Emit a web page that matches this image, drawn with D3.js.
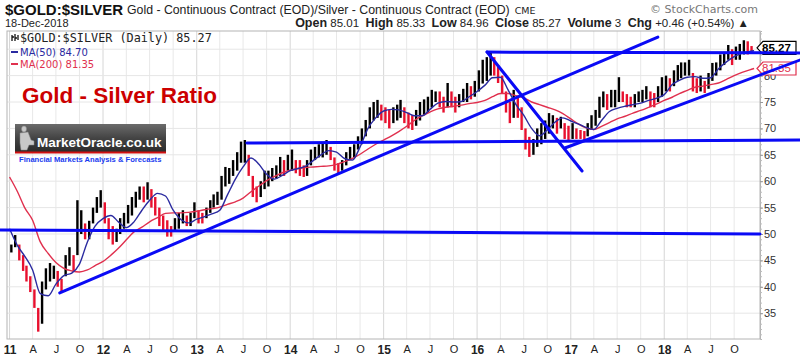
<!DOCTYPE html>
<html><head><meta charset="utf-8">
<script src="https://cdn.jsdelivr.net/npm/d3@7/dist/d3.min.js"></script>
<style>body{margin:0;background:#fff;}svg{display:block;}</style>
</head><body>
<svg id="c" width="800" height="358"></svg>
<script>
// ---- DATA ----
// half-month price ranges, Jan-2011 (1st half) ... Dec-2018 (1st half)
const halfLows = [
 46.5,47.5,45.0,43.0,41.0,39.0,36.0,31.5,33.0,39.5,41.0,41.5,40.0,39.0,42.0,44.0,43.0,46.0,50.0,49.0,49.0,52.0,54.0,55.0,
 52.0,49.0,48.0,48.5,50.0,51.0,52.0,53.5,55.0,56.5,56.0,56.5,55.0,53.5,51.5,50.5,49.5,49.5,50.5,51.0,52.0,51.5,51.5,53.0,
 52.0,52.0,53.0,54.0,55.0,55.5,56.5,59.0,59.5,61.0,62.0,63.5,63.5,61.0,57.0,56.0,57.0,58.5,59.0,60.0,60.5,61.0,61.0,62.0,
 62.0,61.5,61.0,60.8,61.0,63.0,64.0,64.5,64.5,65.0,64.0,62.0,61.5,62.0,63.0,64.0,64.5,66.0,67.0,68.5,70.0,71.5,72.0,71.5,
 71.0,70.0,71.0,71.5,72.0,71.0,70.0,69.7,70.5,71.5,72.5,73.0,74.0,75.0,74.0,73.0,74.0,74.0,73.0,74.0,75.0,75.0,75.5,76.0,
 77.0,78.5,79.0,80.0,80.0,78.6,76.7,73.0,71.0,72.0,72.0,69.7,66.0,64.6,65.0,66.5,67.0,68.0,69.0,70.0,69.0,70.0,68.0,67.8,
 68.0,68.0,68.0,67.8,68.5,69.7,70.5,72.0,74.0,73.5,74.0,74.0,75.0,75.0,74.0,74.0,74.0,75.0,75.0,75.5,74.0,74.0,75.0,76.0,
 77.0,77.0,78.0,79.0,79.5,80.0,80.0,77.0,76.7,77.0,76.7,77.5,79.0,80.0,81.0,82.0,83.0,82.0,83.0,83.0,84.0,84.0,84.5
];
const halfHighs = [
 48.0,49.8,48.0,46.0,44.0,42.0,39.5,36.0,41.0,43.5,44.5,44.0,43.0,41.5,46.0,47.5,46.0,56.4,54.5,52.0,52.5,55.0,57.0,58.3,
 56.0,53.0,51.5,51.0,53.0,54.0,55.5,57.0,58.0,59.0,59.0,59.8,58.5,57.0,55.0,53.5,52.6,51.5,53.0,54.0,54.5,53.5,54.0,56.0,
 54.5,54.0,55.0,56.4,57.5,58.0,61.0,62.7,62.5,64.0,65.5,67.5,67.8,65.0,61.0,59.0,60.0,62.0,62.0,62.5,63.0,64.6,64.0,65.0,
 66.0,64.0,64.0,63.0,64.0,66.0,66.5,67.0,67.2,67.8,66.5,64.5,63.4,64.0,65.5,66.5,67.0,68.5,70.0,71.6,74.0,75.0,75.4,74.5,
 74.0,73.5,74.0,74.5,75.4,74.0,73.0,72.5,73.5,75.0,75.5,76.0,77.3,77.0,77.0,76.0,78.6,77.0,76.0,76.5,77.5,78.6,78.0,79.0,
 81.0,83.0,83.5,84.3,83.5,82.0,80.0,77.0,75.0,77.3,76.0,74.0,70.0,68.4,68.0,70.0,71.0,71.5,72.9,72.5,72.0,72.2,71.0,70.5,
 71.0,70.0,69.7,69.5,71.0,72.5,73.5,76.0,77.0,76.5,77.3,77.3,79.7,77.0,76.5,76.0,76.5,77.0,77.3,78.0,77.0,76.7,78.0,79.7,
 80.0,79.5,81.0,82.0,82.5,82.5,83.0,80.5,79.5,80.0,79.0,80.5,82.4,82.5,84.0,84.5,85.8,85.0,85.5,86.0,86.7,86.5,85.6
];
// moving averages, 1st of each month Jan-2011 ... Dec-2018, then 18-Dec-2018
const ma50 = [
 51.0,47.8,45.8,43.2,38.7,38.3,40.5,42.1,42.6,44.3,48.5,51.5,
 52.9,53.5,52.3,51.2,52.3,54.5,56.4,57.7,57.2,54.5,52.7,52.1,
 52.8,53.3,53.8,54.5,57.4,60.4,62.7,64.4,63.2,61.3,60.4,61.1,
 62.0,62.4,62.8,63.9,65.0,65.8,65.5,64.3,64.0,66.5,70.0,72.0,
 73.3,73.6,73.5,73.0,72.4,72.4,73.6,74.8,75.1,75.0,75.1,76.0,
 77.0,78.2,79.6,79.7,77.3,74.5,72.5,70.0,68.6,69.7,71.2,72.0,
 71.4,70.8,70.2,69.8,71.5,73.2,73.8,74.2,74.5,74.8,75.3,75.7,
 76.4,78.3,79.1,79.7,79.8,79.5,79.6,81.3,82.6,83.6,84.2,84.6,84.70
];
const ma200 = [
 60.8,58.0,55.0,52.6,48.5,46.3,44.6,43.5,43.0,42.8,43.2,44.0,
 44.8,46.0,47.3,48.9,50.4,51.3,52.3,53.1,53.9,54.0,54.0,54.1,
 54.3,54.6,54.8,55.1,55.6,56.1,56.8,58.0,59.1,60.1,60.9,61.6,
 62.1,62.4,62.6,62.7,62.8,62.9,63.2,63.7,64.3,65.1,66.1,67.0,
 67.8,68.6,69.4,70.4,71.5,72.4,73.1,73.7,74.0,74.2,74.4,74.7,
 74.9,75.3,76.0,76.6,76.6,76.2,75.8,75.0,74.5,74.0,73.5,72.8,
 71.8,70.8,70.1,69.8,70.4,71.1,71.8,72.3,72.9,73.4,74.0,74.6,
 75.3,75.9,76.6,77.2,77.8,78.0,78.3,78.6,79.3,80.0,80.6,81.1,81.35
];
const gridLevels = [35,40,45,50,55,60,65,70,75,80,85];
const yTickLabels = [35,40,45,50,55,60,65,70,75,80];   // "85" sits hidden under the price tag
const yearLabels = ['11','12','13','14','15','16','17','18'];
const quarterLabels = ['A','J','O'];
// hand-drawn trend lines: [date, ratio] end points
const trendLines = [
 [['2010-11-24',50.75],['2019-01-10',50.0]],
 [['2013-07-16',67.25],['2019-06-14',67.8]],
 [['2016-02-09',84.45],['2019-06-14',84.3]],
 [['2011-07-16',38.83],['2017-12-07',87.31]],
 [['2016-02-09',84.47],['2017-02-14',61.93]],
 [['2016-12-09',66.29],['2019-06-15',82.95]]
];
const lastClose = 85.27, lastMa50 = 84.70, lastMa200 = 81.35;

// ---- CHART ----
const svg = d3.select('#c');
const parse = d3.timeParse('%Y-%m-%d');
const L = 7, R = 760, T = 31, B = 339;
const x = d3.scaleTime().domain([new Date(2010,11,22), new Date(2019,0,10)]).range([L, R]);
const y = d3.scaleLinear().domain([30.11, 88.45]).range([B, T]);
const SANS = "'Liberation Sans', Arial, sans-serif";

// grid
const quarters = d3.timeMonth.every(3).range(new Date(2011,0,1), new Date(2019,0,1));
const g = svg.append('g');
g.selectAll('line.v').data(quarters).join('line')
  .attr('x1', d => x(d)).attr('x2', d => x(d)).attr('y1', T).attr('y2', B)
  .attr('stroke', d => d.getMonth() === 0 ? '#d6d6d6' : '#e8e8e8').attr('stroke-width', 1);
g.selectAll('line.h').data(gridLevels).join('line')
  .attr('x1', L).attr('x2', R).attr('y1', d => y(d)).attr('y2', d => y(d))
  .attr('stroke', '#e6e6e6');
svg.append('rect').attr('x', L).attr('y', T).attr('width', R - L).attr('height', B - T)
  .attr('fill', 'none').attr('stroke', '#b4b4b4');

// price bars
const barDates = halfLows.map((_, i) => new Date(2011, Math.floor(i/2), i % 2 ? 23 : 8));
const bars = svg.append('g');
halfLows.forEach((lo, i) => {
  const hi = halfHighs[i];
  const mid = (lo + hi) / 2;
  const prev = i ? (halfLows[i-1] + halfHighs[i-1]) / 2 : mid - 1;
  bars.append('line')
    .attr('x1', x(barDates[i])).attr('x2', x(barDates[i]))
    .attr('y1', y(lo)).attr('y2', y(hi))
    .attr('stroke', mid >= prev ? '#000' : '#e8102e').attr('stroke-width', 2.4);
});

// moving averages
const maDates = ma50.map((_, i) => i < 96 ? new Date(2011, i, 1) : new Date(2018, 11, 18));
const line = d3.line().x((d, i) => x(maDates[i])).y(d => y(d)).curve(d3.curveMonotoneX);
svg.append('path').attr('d', line(ma200)).attr('fill', 'none').attr('stroke', '#e0304e').attr('stroke-width', 1.4);
svg.append('path').attr('d', line(ma50)).attr('fill', 'none').attr('stroke', '#2a2aa0').attr('stroke-width', 1.4);

// y axis
const yAx = svg.append('g').attr('transform', `translate(${R},0)`)
  .call(d3.axisRight(y).tickValues(d3.range(31, 89)).tickSize(2).tickFormat(''));
yAx.select('.domain').attr('stroke', '#b4b4b4');
yAx.selectAll('line').attr('stroke', '#bbb');
const yLab = svg.append('g').attr('transform', `translate(${R},0)`)
  .call(d3.axisRight(y).tickValues(yTickLabels).tickSize(3).tickPadding(1).tickFormat(d3.format('d')));
yLab.select('.domain').remove();
yLab.selectAll('line').attr('stroke', '#999');
yLab.selectAll('text').attr('font-family', SANS).attr('font-size', 11).attr('fill', '#333');

// x axis
const xAx = svg.append('g').attr('transform', `translate(0,${B})`)
  .call(d3.axisBottom(x).tickValues(quarters).tickSize(0).tickPadding(5)
    .tickFormat(d => d.getMonth() === 0 ? yearLabels[d.getFullYear() - 2011] : quarterLabels[d.getMonth()/3 - 1]));
xAx.select('.domain').remove();
xAx.selectAll('text').attr('font-family', SANS).attr('fill', '#222')
  .attr('font-size', d => d.getMonth() === 0 ? 12 : 11)
  .attr('font-weight', d => d.getMonth() === 0 ? 'bold' : 'normal')
  .attr('dy', '0.85em');

// value tags
function tag(v, txt, col, bold) {
  const yy = y(v);
  svg.append('path')
    .attr('d', `M757,${yy} L763,${yy-6.5} L796,${yy-6.5} L796,${yy+6.5} L763,${yy+6.5} Z`)
    .attr('fill', '#fff').attr('stroke', col).attr('stroke-width', 1.2);
  svg.append('text').attr('x', 762).attr('y', yy + 4).text(txt)
    .attr('font-family', SANS).attr('font-size', 11.5).attr('font-weight', bold ? 'bold' : 'normal').attr('fill', col);
}
tag(lastMa200, d3.format('.2f')(lastMa200), '#e0304e', false);
tag(lastClose, d3.format('.2f')(lastClose), '#000', true);

// trend lines
svg.append('g').selectAll('line').data(trendLines).join('line')
  .attr('x1', d => x(parse(d[0][0]))).attr('y1', d => y(d[0][1]))
  .attr('x2', d => x(parse(d[1][0]))).attr('y2', d => y(d[1][1]))
  .attr('stroke', '#0a0af5').attr('stroke-width', 3).attr('stroke-linecap', 'round');

// header
svg.append('text').attr('x', 5).attr('y', 15).text('$GOLD:$SILVER')
  .attr('font-family', SANS).attr('font-weight', 'bold').attr('font-size', 15).attr('fill', '#111');
const sub = svg.append('text').attr('x', 127).attr('y', 14)
  .attr('font-family', SANS).attr('font-size', 12.3).attr('fill', '#222');
sub.append('tspan').text('Gold - Continuous Contract (EOD)/Silver - Continuous Contract (EOD)');
sub.append('tspan').attr('dx', 5).text('CME').attr('font-family', "'DejaVu Sans', sans-serif").attr('font-size', 9.5);
svg.append('text').attr('x', 758).attr('y', 13).attr('text-anchor', 'end').text('© StockCharts.com')
  .attr('font-family', "'DejaVu Sans', sans-serif").attr('font-size', 11).attr('fill', '#777');
svg.append('text').attr('x', 5).attr('y', 27).text('18-Dec-2018')
  .attr('font-family', SANS).attr('font-size', 11).attr('fill', '#222');
const info = svg.append('text').attr('x', 749).attr('y', 27).attr('text-anchor', 'end')
  .attr('font-family', SANS).attr('font-size', 11.5).attr('fill', '#222').attr('xml:space', 'preserve');
[['Open',' 85.01  '],['High',' 85.33  '],['Low',' 84.96  '],['Close',' 85.27  '],['Volume',' 3  '],['Chg',' +0.46 (+0.54%) ▲']]
  .forEach(([k, v]) => {
    info.append('tspan').text(k).attr('font-weight', 'bold').attr('font-size', 12.5);
    info.append('tspan').text(v);
  });

// legend
const lg = svg.append('g');
lg.append('path').attr('d', 'M12,35 V41 M12,37 H14 M15,34 V41 M15,38 H17 M18,35 V40')
  .attr('stroke', '#111').attr('stroke-width', 1.3).attr('fill', 'none');
lg.append('text').attr('x', 20).attr('y', 42).text('$GOLD:$SILVER (Daily) 85.27')
  .attr('font-family', "'DejaVu Sans Mono', monospace").attr('font-size', 11.8).attr('fill', '#222');
lg.append('line').attr('x1', 11).attr('x2', 18).attr('y1', 52).attr('y2', 52).attr('stroke', '#2a2aa0').attr('stroke-width', 2);
lg.append('text').attr('x', 20).attr('y', 56).text('MA(50) ' + d3.format('.2f')(lastMa50))
  .attr('font-family', "'DejaVu Sans', sans-serif").attr('font-size', 10).attr('fill', '#2a2aa0');
lg.append('line').attr('x1', 11).attr('x2', 18).attr('y1', 64).attr('y2', 64).attr('stroke', '#e0304e').attr('stroke-width', 2);
lg.append('text').attr('x', 20).attr('y', 68).text('MA(200) ' + d3.format('.2f')(lastMa200))
  .attr('font-family', "'DejaVu Sans', sans-serif").attr('font-size', 10).attr('fill', '#e0304e');

// title annotation
svg.append('text').attr('x', 22).attr('y', 103).text('Gold - Silver Ratio')
  .attr('font-family', SANS).attr('font-weight', 'bold').attr('font-size', 22.5).attr('fill', '#cc0000');

// logo
const defs = svg.append('defs');
const gr = defs.append('linearGradient').attr('id', 'lg').attr('x1', 0).attr('y1', 0).attr('x2', 0).attr('y2', 1);
gr.append('stop').attr('offset', 0).attr('stop-color', '#6b6b6b');
gr.append('stop').attr('offset', 0.5).attr('stop-color', '#444');
gr.append('stop').attr('offset', 1).attr('stop-color', '#2b2b2b');
svg.append('rect').attr('x', 15).attr('y', 124).attr('width', 151).attr('height', 28).attr('fill', 'url(#lg)');
svg.append('rect').attr('x', 15).attr('y', 151.5).attr('width', 151).attr('height', 2).attr('fill', '#d01010');
const fig = svg.append('g').attr('fill', '#c8c8c8').attr('stroke', '#888').attr('stroke-width', 0.5);
fig.append('ellipse').attr('cx', 24).attr('cy', 129).attr('rx', 2.5).attr('ry', 3);
fig.append('path').attr('d', 'M20,133 L28,132 L31,140 L34,141 L34,145 L29,145 L27,150 L21,150 L20,143 Z');
svg.append('text').attr('x', 37).attr('y', 147).text('MarketOracle.co.uk')
  .attr('font-family', SANS).attr('font-weight', 'bold').attr('font-size', 13.5).attr('fill', '#fff');
svg.append('text').attr('x', 19).attr('y', 162).text('Financial Markets Analysis & Forecasts')
  .attr('font-family', SANS).attr('font-weight', 'bold').attr('font-size', 7.6).attr('fill', '#1a3cf0');
</script>
</body></html>
